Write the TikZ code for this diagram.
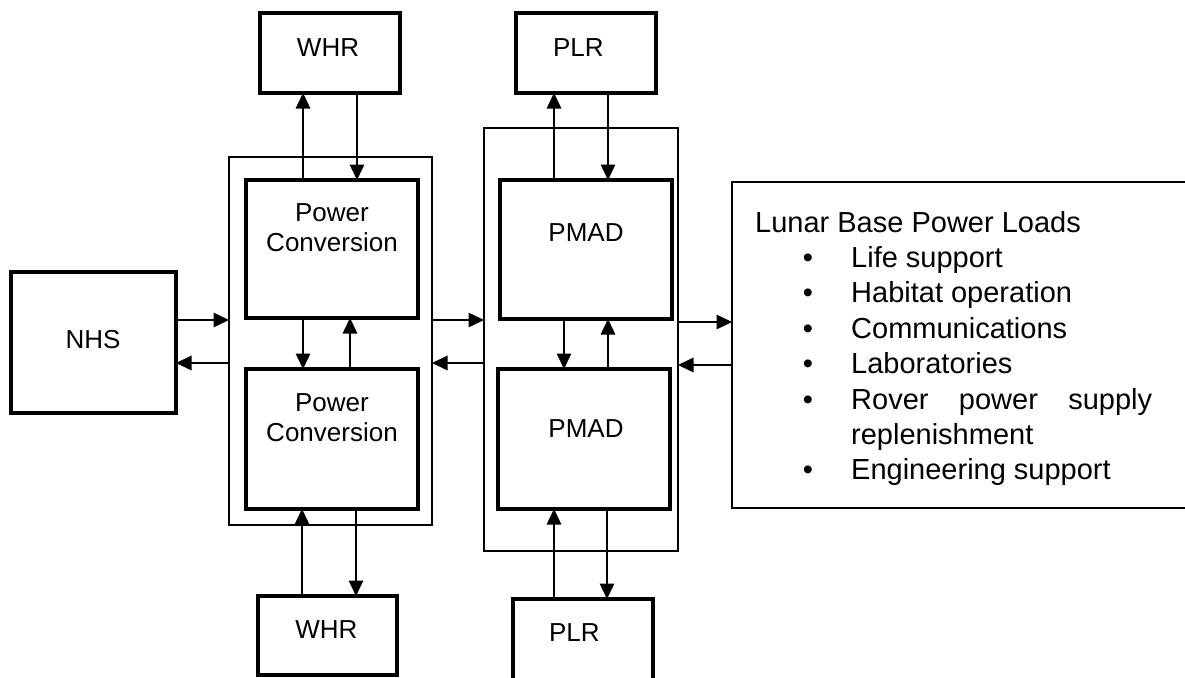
\documentclass[tikz,border=0pt]{standalone}
\usepackage{fontspec}
\setmainfont{Liberation Sans}
\usetikzlibrary{arrows.meta}
\tikzset{
  thickbox/.style={draw, line width=3.5pt, inner sep=0pt, outer sep=0pt},
  thinbox/.style={draw, line width=1.8pt, inner sep=0pt, outer sep=0pt},
  arr/.style={line width=1.5pt, -{Triangle[length=15.5pt,width=14.5pt]}},
  lbl/.style={inner sep=0pt, anchor=base, font=\fontsize{26}{30}\selectfont},
  ltxt/.style={inner sep=0pt, anchor=base west, font=\fontsize{29}{35}\selectfont},
  lbul/.style={inner sep=0pt, anchor=base, font=\fontsize{29}{35}\selectfont}
}
\begin{document}
\begin{tikzpicture}[x=1pt,y=-1pt]
\useasboundingbox (0,0) rectangle (1185,677);
% boxes
\node[thickbox, minimum width=165pt, minimum height=141pt] (nhs) at (93.5,342.5) {};
\node[thinbox, minimum width=203pt, minimum height=368pt] (outerL) at (330.5,341) {};
\node[thickbox, minimum width=172pt, minimum height=138pt] (pc1) at (332,249) {};
\node[thickbox, minimum width=172pt, minimum height=140pt] (pc2) at (332,439) {};
\node[thickbox, minimum width=140pt, minimum height=80pt] (whr1) at (330,53) {};
\node[thickbox, minimum width=139pt, minimum height=79pt] (whr2) at (327.5,635.5) {};
\node[thinbox, minimum width=194pt, minimum height=423pt] (outerR) at (581,339.5) {};
\node[thickbox, minimum width=172pt, minimum height=139pt] (pmad1) at (586,249.5) {};
\node[thickbox, minimum width=172pt, minimum height=140pt] (pmad2) at (584,439) {};
\node[thickbox, minimum width=140pt, minimum height=80pt] (plr1) at (586,53) {};
\node[thickbox, minimum width=140pt, minimum height=82pt] (plr2) at (583,640) {};
\node[inner sep=0pt, outer sep=0pt, minimum width=458pt, minimum height=326pt] (loads) at (961,345) {};
\draw[line width=1.8pt] (loads.north east) -- (loads.north west) -- (loads.south west) -- (loads.south east);
% labels
\node[lbl] (nhst) at (93,348.3) {NHS};
\node[lbl] (pc1a) at (332,221.7) {Power};
\node[lbl] (pc1b) at (332,251.7) {Conversion};
\node[lbl] (pc2a) at (332,411.7) {Power};
\node[lbl] (pc2b) at (332,441.7) {Conversion};
\node[lbl] (whr1t) at (328,56.7) {WHR};
\node[lbl] (whr2t) at (326.3,638.3) {WHR};
\node[lbl] (pmad1t) at (586,241.7) {PMAD};
\node[lbl] (pmad2t) at (586,437.7) {PMAD};
\node[lbl] (plr1t) at (578.3,56.7) {PLR};
\node[lbl] (plr2t) at (574.3,641.7) {PLR};
% loads text
\node[ltxt] (l0) at (755,232) {Lunar Base Power Loads};
\node[lbul] (b1) at (808,267.4) {•};
\node[ltxt] (l1) at (851,267.4) {Life support};
\node[lbul] (b2) at (808,302.8) {•};
\node[ltxt] (l2) at (851,302.8) {Habitat operation};
\node[lbul] (b3) at (808,338.2) {•};
\node[ltxt] (l3) at (851,338.2) {Communications};
\node[lbul] (b4) at (808,373.6) {•};
\node[ltxt] (l4) at (851,373.6) {Laboratories};
\node[lbul] (b5) at (808,409) {•};
\node[ltxt] (l5) at (851,409) {\makebox[301pt][s]{Rover power supply}};
\node[ltxt] (l6) at (851,444.4) {replenishment};
\node[lbul] (b7) at (808,479.8) {•};
\node[ltxt] (l7) at (851,479.8) {Engineering support};
% horizontal arrows
\draw[arr] ([yshift=22.5pt]nhs.east) -- ([yshift=22.5pt]nhs.east -| outerL.west);
\draw[arr] ([yshift=-20.5pt]nhs.east -| outerL.west) -- ([yshift=-20.5pt]nhs.east);
\draw[arr] ([yshift=21pt]outerL.east) -- ([yshift=21pt]outerL.east -| outerR.west);
\draw[arr] ([yshift=-22pt]outerL.east -| outerR.west) -- ([yshift=-22pt]outerL.east);
\draw[arr] ([yshift=17.5pt]outerR.east) -- ([yshift=17.5pt]outerR.east -| loads.west);
\draw[arr] ([yshift=-25.5pt]outerR.east -| loads.west) -- ([yshift=-25.5pt]outerR.east);
% power conversion column
\draw[arr] ([xshift=-29pt]pc1.south) -- ([xshift=-29pt]pc1.south |- pc2.north);
\draw[arr] ([xshift=18pt]pc2.north) -- ([xshift=18pt]pc2.north |- pc1.south);
\draw[arr] ([xshift=-29pt]pc1.north) -- ([xshift=-29pt]pc1.north |- whr1.south);
\draw[arr] ([xshift=25pt]pc1.north |- whr1.south) -- ([xshift=25pt]pc1.north);
\draw[arr] ([xshift=-30pt]pc2.south |- whr2.north) -- ([xshift=-30pt]pc2.south);
\draw[arr] ([xshift=24pt]pc2.south) -- ([xshift=24pt]pc2.south |- whr2.north);
% PMAD column
\draw[arr] ([xshift=-22pt]pmad1.south) -- ([xshift=-22pt]pmad1.south |- pmad2.north);
\draw[arr] ([xshift=24pt]pmad2.north) -- ([xshift=24pt]pmad2.north |- pmad1.south);
\draw[arr] ([xshift=-32pt]pmad1.north) -- ([xshift=-32pt]pmad1.north |- plr1.south);
\draw[arr] ([xshift=22pt]pmad1.north |- plr1.south) -- ([xshift=22pt]pmad1.north);
\draw[arr] ([xshift=-30pt]pmad2.south |- plr2.north) -- ([xshift=-30pt]pmad2.south);
\draw[arr] ([xshift=23pt]pmad2.south) -- ([xshift=23pt]pmad2.south |- plr2.north);
\end{tikzpicture}
\end{document}
